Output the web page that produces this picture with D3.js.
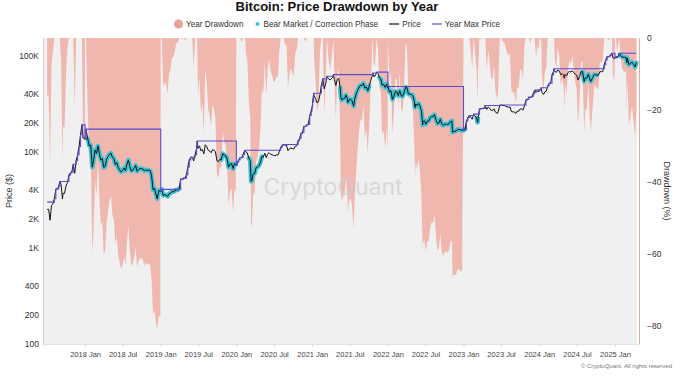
<!DOCTYPE html>
<html>
<head>
<meta charset="utf-8">
<script src="https://cdn.jsdelivr.net/npm/d3@7"></script>
<style>
  body { margin: 0; background: #fff; }
  svg { display: block; font-family: "Liberation Sans", Arial, sans-serif; }
</style>
</head>
<body>
<svg></svg>
<script>
// BTC price, [date, close]
const btc2017 = [["2017-07-02",2500],["2017-07-09",2510],["2017-07-16",1930],["2017-07-23",2750],["2017-07-30",2870],["2017-08-06",3230],["2017-08-13",4070],["2017-08-20",4090],["2017-08-27",4380],["2017-09-01",4890],["2017-09-07",4600],["2017-09-14",3230],["2017-09-17",3690],["2017-09-24",3670],["2017-10-01",4400],["2017-10-08",4770],["2017-10-15",5700],["2017-10-22",6000],["2017-10-29",6150],["2017-11-05",7400],["2017-11-12",5950],["2017-11-19",8040],["2017-11-26",9300],["2017-12-03",11250],["2017-12-10",15000],["2017-12-17",19100],["2017-12-22",13800],["2017-12-24",13900],["2017-12-31",13850]];
const btc2018 = [["2018-01-01",13400],["2018-01-06",17170],["2018-01-07",16500],["2018-01-14",13600],["2018-01-21",11500],["2018-01-28",11700],["2018-02-05",6900],["2018-02-11",8100],["2018-02-18",10400],["2018-02-25",9600],["2018-03-04",11500],["2018-03-11",9550],["2018-03-18",8200],["2018-03-25",8450],["2018-04-01",6850],["2018-04-08",7050],["2018-04-15",8350],["2018-04-22",8900],["2018-04-29",9400],["2018-05-06",9650],["2018-05-13",8700],["2018-05-20",8500],["2018-05-27",7350],["2018-06-03",7700],["2018-06-10",6780],["2018-06-17",6450],["2018-06-24",6150],["2018-07-01",6350],["2018-07-08",6750],["2018-07-15",6350],["2018-07-22",7400],["2018-07-29",8200],["2018-08-05",7050],["2018-08-12",6300],["2018-08-19",6400],["2018-08-26",6700],["2018-09-02",7200],["2018-09-09",6250],["2018-09-16",6500],["2018-09-23",6700],["2018-09-30",6630],["2018-10-07",6600],["2018-10-14",6300],["2018-10-21",6480],["2018-10-28",6360],["2018-11-04",6400],["2018-11-11",6350],["2018-11-18",5600],["2018-11-25",4000],["2018-12-02",4150],["2018-12-09",3600],["2018-12-15",3230],["2018-12-23",3950],["2018-12-30",3850]];
const btc2019 = [["2019-01-01",3850],["2019-01-06",4050],["2019-01-13",3500],["2019-01-20",3550],["2019-01-27",3530],["2019-02-03",3420],["2019-02-10",3650],["2019-02-17",3690],["2019-02-24",3830],["2019-03-03",3830],["2019-03-10",3900],["2019-03-17",4000],["2019-03-24",3990],["2019-03-31",4100],["2019-04-07",5180],["2019-04-14",5170],["2019-04-21",5300],["2019-04-28",5270],["2019-05-05",5750],["2019-05-12",6950],["2019-05-19",8200],["2019-05-26",8750],["2019-06-02",8750],["2019-06-09",8000],["2019-06-16",9300],["2019-06-23",10800],["2019-06-26",12900],["2019-06-30",10800],["2019-07-07",11500],["2019-07-14",10200],["2019-07-21",10550],["2019-07-28",9500],["2019-08-04",11800],["2019-08-11",11300],["2019-08-18",10350],["2019-08-25",10150],["2019-09-01",9750],["2019-09-08",10500],["2019-09-15",10350],["2019-09-22",10000],["2019-09-29",8050],["2019-10-06",7870],["2019-10-13",8280],["2019-10-20",8250],["2019-10-27",9550],["2019-11-03",9200],["2019-11-10",9050],["2019-11-17",8500],["2019-11-24",6900],["2019-12-01",7400],["2019-12-08",7520],["2019-12-17",6650],["2019-12-22",7500],["2019-12-29",7380]];
const btc2020 = [["2020-01-01",7200],["2020-01-05",7750],["2020-01-12",8180],["2020-01-19",8700],["2020-01-26",8600],["2020-02-02",9350],["2020-02-09",10150],["2020-02-13",10350],["2020-02-16",9900],["2020-02-23",9700],["2020-03-01",8550],["2020-03-08",8050],["2020-03-12",4900],["2020-03-16",5000],["2020-03-22",5850],["2020-03-29",5900],["2020-04-05",6800],["2020-04-12",6900],["2020-04-19",7150],["2020-04-26",7700],["2020-05-03",8900],["2020-05-10",8750],["2020-05-17",9650],["2020-05-24",8700],["2020-05-31",9450],["2020-06-07",9750],["2020-06-14",9400],["2020-06-21",9300],["2020-06-28",9100],["2020-07-05",9100],["2020-07-12",9250],["2020-07-19",9200],["2020-07-26",9950],["2020-08-02",11100],["2020-08-09",11700],["2020-08-16",11900],["2020-08-23",11650],["2020-08-30",11700],["2020-09-06",10250],["2020-09-13",10700],["2020-09-20",10900],["2020-09-27",10750],["2020-10-04",10650],["2020-10-11",11400],["2020-10-18",11500],["2020-10-25",13000],["2020-11-01",13750],["2020-11-08",15500],["2020-11-15",16000],["2020-11-22",18400],["2020-11-29",18200],["2020-12-06",19150],["2020-12-13",19250],["2020-12-20",23800],["2020-12-27",26500],["2020-12-31",29000]];
const btc2021 = [["2021-01-01",29400],["2021-01-03",33000],["2021-01-08",40600],["2021-01-10",38300],["2021-01-17",35800],["2021-01-24",32300],["2021-01-31",33100],["2021-02-07",39000],["2021-02-14",48600],["2021-02-21",57500],["2021-02-28",45200],["2021-03-07",51200],["2021-03-13",61200],["2021-03-21",57500],["2021-03-28",55800],["2021-04-04",57800],["2021-04-11",60000],["2021-04-13",63500],["2021-04-18",56200],["2021-04-25",49000],["2021-05-02",56600],["2021-05-09",58200],["2021-05-16",46400],["2021-05-19",37000],["2021-05-23",34700],["2021-05-30",35600],["2021-06-06",35800],["2021-06-13",39000],["2021-06-20",35500],["2021-06-22",32500],["2021-06-27",34700],["2021-07-04",35300],["2021-07-11",34250],["2021-07-20",29800],["2021-07-25",35400],["2021-08-01",39900],["2021-08-08",43800],["2021-08-15",47000],["2021-08-22",49300],["2021-08-29",48800],["2021-09-05",51700],["2021-09-12",46000],["2021-09-19",47300],["2021-09-26",43200],["2021-10-03",48200],["2021-10-10",54900],["2021-10-17",61500],["2021-10-20",66000],["2021-10-24",60900],["2021-10-31",61300],["2021-11-08",67500],["2021-11-14",65500],["2021-11-21",58800],["2021-11-28",57200],["2021-12-04",49400],["2021-12-12",50100],["2021-12-19",46700],["2021-12-26",50800],["2021-12-31",46300]];
const btc2022 = [["2022-01-01",47700],["2022-01-09",41800],["2022-01-16",43100],["2022-01-23",35000],["2022-01-30",37900],["2022-02-06",42400],["2022-02-13",42100],["2022-02-20",38300],["2022-02-27",43200],["2022-03-06",38400],["2022-03-13",37800],["2022-03-20",41300],["2022-03-28",47100],["2022-04-03",46400],["2022-04-10",40000],["2022-04-17",39700],["2022-04-24",39500],["2022-05-01",38500],["2022-05-08",34000],["2022-05-12",28900],["2022-05-15",31300],["2022-05-22",30300],["2022-05-29",31800],["2022-06-05",29900],["2022-06-12",26600],["2022-06-18",19000],["2022-06-19",20500],["2022-06-26",21000],["2022-07-03",19300],["2022-07-10",20800],["2022-07-17",20800],["2022-07-24",22600],["2022-07-31",23300],["2022-08-07",23200],["2022-08-14",24300],["2022-08-21",21500],["2022-08-28",19600],["2022-09-04",19800],["2022-09-11",21800],["2022-09-18",19400],["2022-09-25",18800],["2022-10-02",19300],["2022-10-09",19400],["2022-10-16",19250],["2022-10-23",19550],["2022-10-30",20600],["2022-11-06",20900],["2022-11-09",15900],["2022-11-13",16300],["2022-11-20",16300],["2022-11-27",16450],["2022-12-04",17100],["2022-12-11",17100],["2022-12-18",16750],["2022-12-25",16850]];
const btc2023 = [["2023-01-01",16600],["2023-01-08",17100],["2023-01-15",20900],["2023-01-22",22700],["2023-01-29",23800],["2023-02-05",22900],["2023-02-12",21800],["2023-02-19",24600],["2023-02-26",23500],["2023-03-05",22400],["2023-03-10",20200],["2023-03-12",22100],["2023-03-19",28000],["2023-03-26",27900],["2023-04-02",28200],["2023-04-09",28300],["2023-04-16",30300],["2023-04-23",27600],["2023-04-30",29200],["2023-05-07",28400],["2023-05-14",26900],["2023-05-21",26800],["2023-05-28",28000],["2023-06-04",25800],["2023-06-14",25100],["2023-06-18",26500],["2023-06-25",30500],["2023-07-02",30600],["2023-07-09",30300],["2023-07-16",30250],["2023-07-23",29800],["2023-07-30",29300],["2023-08-06",29100],["2023-08-13",29300],["2023-08-20",26100],["2023-08-27",26000],["2023-09-03",25900],["2023-09-11",25100],["2023-09-17",26500],["2023-09-24",26300],["2023-10-01",27900],["2023-10-08",27900],["2023-10-15",27100],["2023-10-22",30000],["2023-10-29",34500],["2023-11-05",35000],["2023-11-12",37000],["2023-11-19",36500],["2023-11-26",37500],["2023-12-03",39900],["2023-12-10",43800],["2023-12-17",41400],["2023-12-24",43000],["2023-12-31",42300]];
const btc2024 = [["2024-01-01",44200],["2024-01-07",43900],["2024-01-11",46400],["2024-01-14",41700],["2024-01-22",39500],["2024-01-28",42000],["2024-02-04",42600],["2024-02-11",48300],["2024-02-18",51600],["2024-02-25",51700],["2024-03-03",63100],["2024-03-10",68300],["2024-03-13",73100],["2024-03-17",68400],["2024-03-24",67200],["2024-03-31",71300],["2024-04-07",69400],["2024-04-14",63400],["2024-04-21",64900],["2024-04-28",63100],["2024-05-01",58200],["2024-05-05",63900],["2024-05-12",61500],["2024-05-19",66900],["2024-05-26",68500],["2024-06-02",67800],["2024-06-09",69600],["2024-06-16",66600],["2024-06-23",64200],["2024-06-30",62700],["2024-07-05",56600],["2024-07-07",55800],["2024-07-14",60800],["2024-07-21",68200],["2024-07-28",68300],["2024-08-05",54000],["2024-08-11",58700],["2024-08-18",58400],["2024-08-25",64200],["2024-09-01",57300],["2024-09-06",53900],["2024-09-15",59100],["2024-09-22",63400],["2024-09-29",63300],["2024-10-06",62800],["2024-10-13",62800],["2024-10-20",68400],["2024-10-27",67900],["2024-11-03",68700],["2024-11-10",80400],["2024-11-17",90600],["2024-11-24",97900],["2024-12-01",97200],["2024-12-08",101100],["2024-12-17",106100],["2024-12-22",95100],["2024-12-29",93700]];
const btc2025 = [["2025-01-01",94400],["2025-01-05",98300],["2025-01-12",94500],["2025-01-21",106100],["2025-01-26",102600],["2025-02-02",97700],["2025-02-09",96500],["2025-02-16",96100],["2025-02-23",96300],["2025-02-27",84700],["2025-03-02",94200],["2025-03-09",80700],["2025-03-16",82600],["2025-03-23",86000],["2025-03-30",82400],["2025-04-06",78300],["2025-04-08",76300],["2025-04-14",84500]];

// 2017 high made before the first plotted day
const startYearMax = 2980;

// bear market / correction phases [start, end]
const bearPhases = [["2018-01-10","2019-03-31"],["2019-10-20","2019-12-31"],["2020-02-25","2020-05-08"],["2021-05-12","2021-10-05"],["2021-11-20","2023-01-13"],["2023-03-03","2023-03-14"],["2024-07-25","2024-10-12"],["2025-01-26","2025-04-14"]];

const priceTicks = [100, 200, 400, 1000, 2000, 4000, 10000, 20000, 40000, 100000];
const priceTickLabels = ['100', '200', '400', '1K', '2K', '4K', '10K', '20K', '40K', '100K'];
const drawdownTicks = [0, -20, -40, -60, -80];
const legendLabels = ['Year Drawdown', 'Bear Market / Correction Phase', 'Price', 'Year Max Price'];

const width = 680, height = 377;
const margin = {top: 38, right: 43, bottom: 33, left: 43};
const innerRight = width - margin.right;
const innerBottom = height - margin.bottom;

const colors = {dd: '#f0b7af', bear: '#3ec3d5', price: '#111', max: '#5a4bd0'};

const parseDate = d3.timeParse('%Y-%m-%d');

const svg = d3.select('svg')
  .attr('width', width)
  .attr('height', height);

const data = [].concat(btc2017, btc2018, btc2019, btc2020, btc2021, btc2022, btc2023, btc2024, btc2025)
  .map(([d, v]) => ({date: parseDate(d), price: v}));

// running max within each calendar year, drawdown from it
let curYear = null, yearMax = 0;
data.forEach(d => {
  const y = d.date.getFullYear();
  if (y !== curYear) { curYear = y; yearMax = y === 2017 ? startYearMax : 0; }
  yearMax = Math.max(yearMax, d.price);
  d.yearMax = yearMax;
  d.drawdown = (d.price / yearMax - 1) * 100;
});

const xScale = d3.scaleTime()
  .domain([parseDate('2017-06-12'), parseDate('2025-04-17')])
  .range([margin.left, innerRight]);

const yPrice = d3.scaleLog()
  .domain([99, 153000])
  .range([innerBottom, margin.top]);

const yDD = d3.scaleLinear()
  .domain([-85, 0])
  .range([innerBottom, margin.top]);

// plot background
svg.append('rect')
  .attr('x', margin.left).attr('y', margin.top)
  .attr('width', innerRight - margin.left)
  .attr('height', innerBottom - margin.top)
  .attr('fill', '#f0f0f0');

// drawdown area
svg.append('path')
  .datum(data)
  .attr('fill', colors.dd)
  .attr('d', d3.area()
    .x(d => xScale(d.date))
    .y0(yDD(0))
    .y1(d => yDD(d.drawdown)));

// watermark
svg.append('text')
  .attr('x', 333).attr('y', 195)
  .attr('text-anchor', 'middle')
  .style('font-size', '23px')
  .style('font-family', 'Inter, "Liberation Sans", sans-serif')
  .attr('fill', '#cfcfcf')
  .attr('opacity', 0.7)
  .text('CryptoQuant');

const priceLine = d3.line()
  .x(d => xScale(d.date))
  .y(d => yPrice(d.price));

// bear phases: cyan band under the price
bearPhases.forEach(([s, e]) => {
  const s0 = parseDate(s), e0 = parseDate(e);
  const seg = data.filter(d => d.date >= s0 && d.date <= e0);
  svg.append('path')
    .datum(seg)
    .attr('fill', 'none')
    .attr('stroke', colors.bear)
    .attr('stroke-width', 4.5)
    .attr('stroke-linejoin', 'round')
    .attr('stroke-linecap', 'round')
    .attr('d', priceLine);
});

svg.append('path')
  .datum(data)
  .attr('fill', 'none')
  .attr('stroke', colors.price)
  .attr('stroke-width', 1)
  .attr('d', priceLine);

svg.append('path')
  .datum(data)
  .attr('fill', 'none')
  .attr('stroke', colors.max)
  .attr('stroke-width', 1.1)
  .attr('d', d3.line()
    .curve(d3.curveStepAfter)
    .x(d => xScale(d.date))
    .y(d => yPrice(d.yearMax)));

// axes
const gLeft = svg.append('g')
  .attr('transform', `translate(${margin.left},0)`)
  .call(d3.axisLeft(yPrice).tickValues(priceTicks)
    .tickFormat((d, i) => priceTickLabels[i]).tickSize(0).tickPadding(4));
gLeft.select('.domain').attr('stroke', '#cfcfcf');
gLeft.selectAll('text').style('font-size', '8.5px').attr('fill', '#333');

const gRight = svg.append('g')
  .attr('transform', `translate(${innerRight + 2},0)`)
  .call(d3.axisRight(yDD).tickValues(drawdownTicks).tickSize(0).tickPadding(8));
gRight.select('.domain').attr('stroke', '#eaa6a0');
gRight.selectAll('text').style('font-size', '8.5px').attr('fill', '#333');

const xTicks = d3.timeMonth.every(6).range(parseDate('2018-01-01'), parseDate('2025-01-02'));
const gBottom = svg.append('g')
  .attr('transform', `translate(0,${innerBottom})`)
  .call(d3.axisBottom(xScale).tickValues(xTicks)
    .tickFormat(d3.timeFormat('%Y %b')).tickSize(3).tickPadding(5));
gBottom.select('.domain').attr('stroke', '#e2e2e2');
gBottom.selectAll('.tick line').attr('stroke', '#d8d8d8');
gBottom.selectAll('text').style('font-size', '7.5px').attr('fill', '#444');

// axis titles
svg.append('text')
  .attr('transform', `translate(12,${(margin.top + innerBottom) / 2}) rotate(-90)`)
  .attr('text-anchor', 'middle')
  .style('font-size', '9px').attr('fill', '#333')
  .text('Price ($)');

svg.append('text')
  .attr('transform', `translate(664,${(margin.top + innerBottom) / 2}) rotate(90)`)
  .attr('text-anchor', 'middle')
  .style('font-size', '9px').attr('fill', '#333')
  .text('Drawdown (%)');

// title
svg.append('text')
  .attr('x', 337).attr('y', 11)
  .attr('text-anchor', 'middle')
  .style('font-size', '13px').style('font-weight', 'bold')
  .attr('fill', '#111')
  .text('Bitcoin: Price Drawdown by Year');

// legend
const legend = svg.append('g').attr('transform', 'translate(0,24)');
let lx = 174;
legendLabels.forEach((label, i) => {
  const item = legend.append('g').attr('transform', `translate(${lx},0)`);
  let sw;
  if (i === 0) {
    item.append('circle').attr('cx', 4.5).attr('r', 4.5).attr('fill', '#eba29a');
    sw = 12;
  } else if (i === 1) {
    item.append('circle').attr('cx', 3).attr('r', 2).attr('fill', colors.bear);
    sw = 9;
  } else {
    item.append('line').attr('x1', 0).attr('x2', 10)
      .attr('stroke', i === 2 ? colors.price : colors.max).attr('stroke-width', 1.2);
    sw = 13;
  }
  const t = item.append('text').attr('x', sw).attr('dy', '0.35em')
    .style('font-size', '8.2px').attr('fill', '#333').text(label);
  lx += sw + t.node().getComputedTextLength() + 11;
});

// copyright
svg.append('text')
  .attr('x', 672).attr('y', 368)
  .attr('text-anchor', 'end')
  .style('font-size', '6px').attr('fill', '#777')
  .text('© CryptoQuant. All rights reserved');
</script>
</body>
</html>
